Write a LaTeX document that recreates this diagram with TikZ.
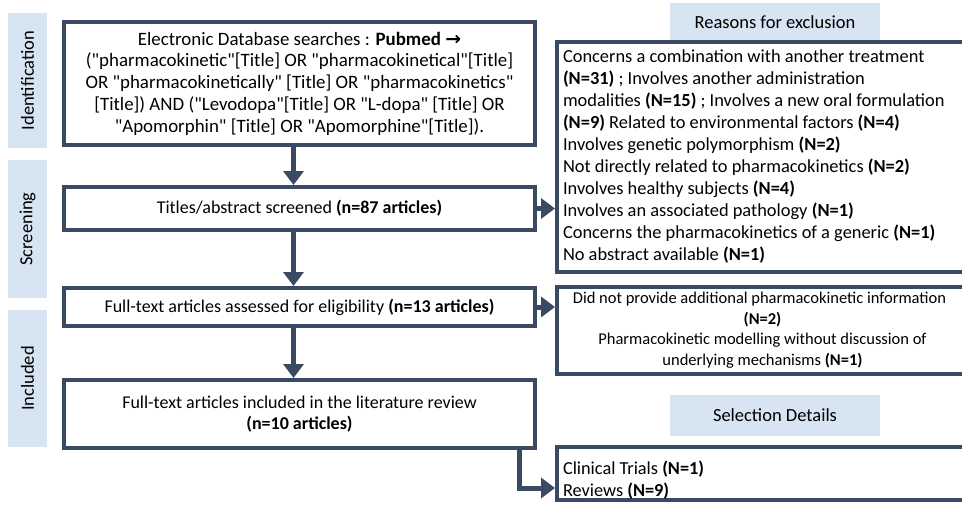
\documentclass[tikz,border=0pt]{standalone}
\usepackage{fontspec}
\setmainfont{Carlito}[Ligatures=TeXOff]
\newfontfamily\arrowfont{DejaVu Sans}
\usetikzlibrary{arrows.meta}
\definecolor{slate}{RGB}{59,74,99}
\definecolor{lblue}{RGB}{215,228,242}
\tikzset{
  box/.style={draw=slate, line width=4pt, fill=white, inner sep=0pt, align=center,
    font=\fontsize{18}{21.75}\selectfont},
  phase/.style={fill=lblue, inner sep=0pt, minimum height=39pt, rotate=90,
    font=\fontsize{18.5}{20}\selectfont},
  header/.style={fill=lblue, inner sep=0pt, minimum width=210pt,
    font=\fontsize{18.5}{20}\selectfont},
  flow/.style={draw=slate, line width=5pt, -{Triangle[width=20pt,length=14pt]}},
}
\begin{document}
\begin{tikzpicture}[x=1pt,y=-1pt]
\clip (0,0) rectangle (962,506);
\fill[white] (0,0) rectangle (962,506);
% phase labels
\node[phase, minimum width=135pt] (lid) at (27.5,80.5) {Identification};
\node[phase, minimum width=138pt] (lsc) at (27.5,229) {Screening};
\node[phase, minimum width=137pt] (lin) at (27.5,378.5) {Included};
% main boxes
\node[box, minimum width=471pt, minimum height=123pt,
  font=\fontsize{18.9}{21.75}\selectfont] (b1) at (299.5,83.5)
 {Electronic Database searches : \textbf{Pubmed {\arrowfont\bfseries →}}\\
  ("pharmacokinetic"[Title] OR "pharmacokinetical"[Title]\\
  OR "pharmacokinetically" [Title] OR "pharmacokinetics"\\
  \relax[Title]) AND ("Levodopa"[Title] OR "L-dopa" [Title] OR\\
  "Apomorphin" [Title] OR "Apomorphine"[Title]).};
\node[box, minimum width=471pt, minimum height=43pt] (b2) at (299.5,208.5)
 {Titles/abstract screened \textbf{(n=87 articles)}};
\node[box, minimum width=471pt, minimum height=38pt] (b3) at (299.5,307)
 {Full-text articles assessed for eligibility \textbf{(n=13 articles)}};
\node[box, minimum width=471pt, minimum height=68pt] (b4) at (299.5,414)
 {Full-text articles included in the literature review\\ \textbf{(n=10 articles)}};
% headers
\node[header, minimum height=39pt] (h1) at (775,22.5) {Reasons for exclusion};
\node[header, minimum height=41pt] (h2) at (775,415.5) {Selection Details};
% right boxes
\node[box, minimum width=411pt, minimum height=230pt, align=flush left, anchor=west,
  text width=399pt, inner xsep=6pt, font=\fontsize{18.4}{22}\selectfont] (r1) at (555,157)
 {Concerns a combination with another treatment\\
  \textbf{(N=31)} ; Involves another administration\\
  modalities \textbf{(N=15)} ; Involves a new oral formulation\\
  \textbf{(N=9)} Related to environmental factors \textbf{(N=4)}\\
  Involves genetic polymorphism \textbf{(N=2)}\\
  Not directly related to pharmacokinetics \textbf{(N=2)}\\
  Involves healthy subjects \textbf{(N=4)}\\
  Involves an associated pathology \textbf{(N=1)}\\
  Concerns the pharmacokinetics of a generic \textbf{(N=1)}\\
  No abstract available \textbf{(N=1)}};
\node[box, minimum width=411pt, minimum height=87pt, anchor=west,
  font=\fontsize{16.5}{20.5}\selectfont] (r2) at (555,330)
 {\hspace*{-6pt}Did not provide additional pharmacokinetic information\\
  \textbf{(N=2)}\\
  Pharmacokinetic modelling without discussion of\\
  underlying mechanisms \textbf{(N=1)}};
\node[box, minimum width=411pt, minimum height=53pt, anchor=west, align=left,
  inner xsep=6pt, font=\fontsize{18.3}{22}\selectfont] (r3) at (555,473.5)
 {\raisebox{-7pt}[\height][\depth]{\parbox{399pt}{\raggedright
   Clinical Trials \textbf{(N=1)}\\ Reviews \textbf{(N=9)}}}};
% down arrows
\draw[flow] ([xshift=-6pt]b1.south) -- ([xshift=-6pt]b2.north);
\draw[flow] ([xshift=-6pt]b2.south) -- ([xshift=-6pt]b3.north);
\draw[flow] ([xshift=-6pt]b3.south) -- ([xshift=-6pt]b4.north);
% side arrows
\draw[flow] (b2.east) -- (b2.east -| r1.west);
\draw[flow] (b3.east) -- (b3.east -| r2.west);
\coordinate (bend) at (517,488);
\draw[flow] ([xshift=-18pt]b4.south east) |- (bend -| r3.west);
\end{tikzpicture}
\end{document}
